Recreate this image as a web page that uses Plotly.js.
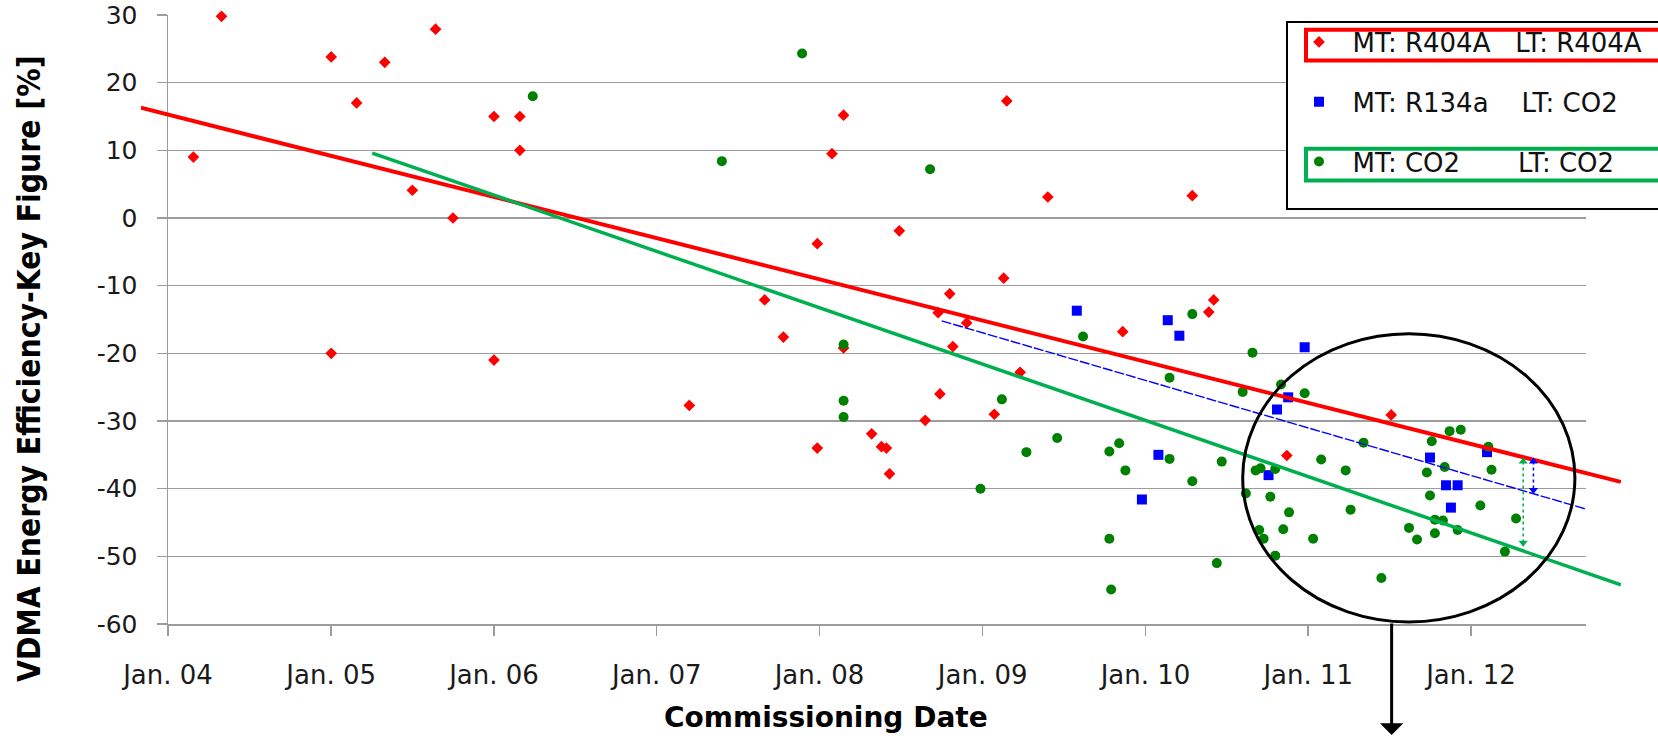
<!DOCTYPE html>
<html>
<head>
<meta charset="utf-8">
<script src="https://cdn.plot.ly/plotly-3.0.1.min.js"></script>
<style>
html,body{margin:0;padding:0;background:#ffffff;}
#chart{width:1658px;height:736px;}
</style>
</head>
<body>
<div id="chart"></div>
<script>
// ---------------- DATA ----------------
const r404aDates = ['2004-02-27','2004-04-30','2005-01-01','2005-02-27','2005-05-01','2005-07-02','2005-08-23','2005-10-01','2006-01-01','2006-02-28','2006-02-28','2005-01-01','2006-01-01','2007-03-15','2007-08-31','2007-10-12','2007-12-27','2007-12-27','2008-01-29','2008-02-24','2008-02-24','2008-04-27','2008-05-19','2008-05-30','2008-06-06','2008-06-28','2008-08-25','2008-09-27','2008-09-23','2008-10-19','2008-10-26','2008-11-26','2009-01-27','2009-02-17','2009-02-24','2009-03-26','2009-05-27','2009-11-11','2010-04-16','2010-06-03','2010-05-23','2010-11-14','2011-07-06'];
const r404aValues = [9.0,29.8,23.8,17.0,23.0,4.1,27.9,0.0,15.0,15.0,10.0,-20.0,-21.0,-27.7,-12.1,-17.6,-34.0,-3.8,9.5,15.2,-19.2,-31.9,-33.8,-34.0,-37.8,-1.9,-29.9,-26.0,-14.0,-11.2,-19.0,-15.5,-29.0,-8.9,17.3,-22.8,3.1,-16.8,3.3,-12.1,-13.9,-35.1,-29.1];

const r134aDates = ['2009-07-31','2010-02-20','2010-03-18','2010-12-24','2010-11-17','2010-10-23','2010-01-30','2009-12-24','2010-10-04','2011-10-01','2012-02-06','2011-11-06','2011-12-02','2011-11-17'];
const r134aValues = [-13.7,-15.1,-17.4,-19.1,-26.5,-28.3,-35.0,-41.6,-38.0,-35.4,-34.6,-39.5,-39.5,-42.8];

const co2Dates = ['2006-03-29','2007-05-27','2007-11-23','2008-09-05','2008-02-24','2008-02-24','2008-02-24','2009-02-13','2008-12-27','2009-04-09','2009-06-17','2009-08-14','2009-10-12','2009-11-03','2009-11-17','2009-10-12','2009-10-16','2010-02-24','2010-02-24','2010-04-16','2010-04-16','2010-06-21','2010-06-10','2010-08-07','2010-08-29','2010-11-01','2010-12-24','2010-09-05','2010-09-16','2010-10-19','2010-08-14','2010-10-08','2010-11-19','2010-11-06','2010-09-13','2010-09-23','2010-10-19','2011-01-12','2011-01-30','2011-03-26','2011-04-06','2011-05-05','2011-06-14','2011-08-15','2011-09-02','2011-09-24','2011-10-01','2011-10-05','2011-10-12','2011-10-12','2011-10-30','2011-11-03','2011-11-14','2011-12-02','2011-12-09','2012-01-22','2012-02-09','2012-02-16','2012-03-17','2012-04-11'];
const co2Values = [18.0,8.4,24.3,7.2,-18.7,-27.0,-29.4,-26.8,-40.0,-34.6,-32.5,-17.5,-34.5,-33.3,-37.3,-47.4,-54.9,-23.6,-35.6,-14.2,-38.9,-36.0,-51.0,-25.7,-19.9,-24.6,-25.9,-37.3,-37.0,-37.1,-40.7,-41.2,-43.5,-46.0,-46.1,-47.4,-49.9,-47.4,-35.7,-37.3,-43.1,-33.2,-53.2,-45.8,-47.5,-37.6,-41.0,-33.0,-44.6,-46.6,-44.7,-36.8,-31.5,-46.1,-31.3,-42.5,-33.8,-37.2,-49.3,-44.4];

// trend lines (end points)
const trendR404aDates = ['2003-11-01','2012-12-02'];
const trendR404aValues = [16.3,-39.0];
const trendR134aDates = ['2008-10-01','2012-09-14'];
const trendR134aValues = [-15.2,-43.0];
const trendCO2Dates = ['2005-04-03','2012-12-02'];
const trendCO2Values = [9.6,-54.2];

// difference arrows
const gapCO2Dates = ['2012-04-27','2012-04-27'];
const gapCO2Values = [-36.0,-48.0];
const gapR134aDates = ['2012-05-20','2012-05-20'];
const gapR134aValues = [-36.0,-40.2];

// highlighted region (circle) and arrow
const circleDates = ['2010-08-07','2012-08-21'];
const circleValues = [-59.7,-17.1];
const arrowDate = '2011-07-07';

// axis ticks
const xTickDates = ['2004-01-01','2005-01-01','2006-01-01','2007-01-01','2008-01-01','2009-01-01','2010-01-01','2011-01-01','2012-01-01'];
const xTickLabels = ['Jan. 04','Jan. 05','Jan. 06','Jan. 07','Jan. 08','Jan. 09','Jan. 10','Jan. 11','Jan. 12'];
const yTickValues = [-60,-50,-40,-30,-20,-10,0,10,20,30];
const yTickLabels = ['-60','-50','-40','-30','-20','-10','0','10','20','30'];
const yRange = [-60,30];

const seriesNames = [
  '\u00a0\u2009MT: R404A\u00a0\u00a0\u00a0LT: R404A',
  '\u00a0\u2009MT: R134a\u00a0\u00a0\u00a0\u00a0LT: CO2',
  '\u00a0\u2009MT: CO2\u00a0\u00a0\u00a0\u00a0\u00a0\u00a0\u00a0LT: CO2'
];
const xTitle = 'Commissioning Date';
const yTitle = 'VDMA Energy Efficiency-Key Figure [%]';

// ---------------- GEOMETRY ----------------
const W = 1658, H = 736;
const plotL = 168, plotR = 1586, plotT = 15, plotB = 624;
const extL = 141, extR = 1621;
const pw = extR - extL, ph = plotB - plotT;
const px2x = p => (p - extL) / pw;
const px2y = p => (plotB - p) / ph;

const t2004 = Date.UTC(2004,0,1), t2012 = Date.UTC(2012,0,1);
const msPerPx = (t2012 - t2004) / (1471 - plotL);
const iso = ms => new Date(ms).toISOString().slice(0,19).replace('T',' ');
const xStart = t2004, xEnd = t2004 + (plotR - plotL) * msPerPx;
const x2Start = xStart - (plotL - extL) * msPerPx;
const x2End = xEnd + (extR - plotR) * msPerPx;

const RED = '#ff0000', BLUE = '#0000ff', DKGREEN = '#008000', LGREEN = '#00b050';
const GRID = '#9c9c9c';
const FONT = 'DejaVu Sans, Verdana, sans-serif';

const traces = [
  {type:'scatter', mode:'markers', x:r404aDates, y:r404aValues, name:seriesNames[0], legendgroup:'a',
   marker:{symbol:'diamond', size:9, color:RED}, cliponaxis:false, xaxis:'x', yaxis:'y'},
  {type:'scatter', mode:'markers', x:r134aDates, y:r134aValues, name:seriesNames[1], legendgroup:'b',
   marker:{symbol:'square', size:10, color:BLUE}, cliponaxis:false, xaxis:'x', yaxis:'y'},
  {type:'scatter', mode:'markers', x:co2Dates, y:co2Values, name:seriesNames[2], legendgroup:'c',
   marker:{symbol:'circle', size:10, color:DKGREEN}, cliponaxis:false, xaxis:'x', yaxis:'y'},
  {type:'scatter', mode:'lines', x:trendR404aDates, y:trendR404aValues, showlegend:false,
   line:{color:RED, width:4}, xaxis:'x2', yaxis:'y2', hoverinfo:'skip'},
  {type:'scatter', mode:'lines', x:trendCO2Dates, y:trendCO2Values, showlegend:false,
   line:{color:LGREEN, width:3.5}, xaxis:'x2', yaxis:'y2', hoverinfo:'skip'},
  {type:'scatter', mode:'lines', x:trendR134aDates, y:trendR134aValues, showlegend:false,
   line:{color:BLUE, width:1.4, dash:'10px,2px'}, xaxis:'x2', yaxis:'y2', hoverinfo:'skip'},
  {type:'scatter', mode:'lines+markers', x:gapCO2Dates, y:gapCO2Values, showlegend:false,
   line:{color:LGREEN, width:1.5, dash:'dot'}, marker:{symbol:['triangle-up','triangle-down'], size:8, color:LGREEN},
   xaxis:'x2', yaxis:'y2', hoverinfo:'skip'},
  {type:'scatter', mode:'lines+markers', x:gapR134aDates, y:gapR134aValues, showlegend:false,
   line:{color:BLUE, width:1.5, dash:'dot'}, marker:{symbol:['triangle-up','triangle-down'], size:8, color:BLUE},
   xaxis:'x2', yaxis:'y2', hoverinfo:'skip'}
];

const layout = {
  width: W, height: H,
  margin: {l: extL, r: W - extR, t: plotT, b: H - plotB, autoexpand: false},
  paper_bgcolor: '#ffffff',
  plot_bgcolor: 'rgba(0,0,0,0)',
  showlegend: true,
  font: {family: FONT, color: '#1a1a1a'},
  xaxis: {
    type: 'date', domain: [px2x(plotL), px2x(plotR)], range: [iso(xStart), iso(xEnd)],
    anchor: 'y', tickmode: 'array', tickvals: xTickDates, ticktext: xTickLabels,
    showgrid: false, zeroline: false, showline: true, linecolor: GRID, linewidth: 1.5,
    ticks: 'outside', ticklen: 10, tickwidth: 1.5, tickcolor: GRID,
    tickfont: {family: FONT, size: 26, color: '#1a1a1a'}, ticklabelstandoff: 17
  },
  yaxis: {
    domain: [0,1], range: yRange, anchor: 'x', tickmode: 'array', tickvals: yTickValues, ticktext: yTickLabels,
    showgrid: true, gridcolor: GRID, gridwidth: 1.5, zeroline: false,
    showline: true, linecolor: GRID, linewidth: 1.5,
    ticks: 'outside', ticklen: 10, tickwidth: 1.5, tickcolor: GRID,
    tickfont: {family: FONT, size: 25, color: '#1a1a1a'}, ticklabelstandoff: 14
  },
  xaxis2: {type: 'date', domain: [0,1], range: [iso(x2Start), iso(x2End)], anchor: 'y2', visible: false, showgrid: false},
  yaxis2: {domain: [0,1], range: yRange, anchor: 'x2', visible: false, showgrid: false},
  legend: {
    x: px2x(1299), xanchor: 'left', y: px2y(18.5), yanchor: 'top',
    bgcolor: 'rgba(0,0,0,0)', borderwidth: 0,
    font: {family: FONT, size: 26, color: '#111111'},
    traceorder: 'grouped', tracegroupgap: 23
  },
  shapes: [
    {type: 'circle', xref: 'x', yref: 'y', x0: circleDates[0], x1: circleDates[1], y0: circleValues[0], y1: circleValues[1],
     line: {color: '#000000', width: 3}},
    {type: 'rect', xref: 'paper', yref: 'paper', x0: px2x(1287), x1: px2x(1700), y0: px2y(209), y1: px2y(22),
     fillcolor: '#ffffff', line: {color: '#000000', width: 2}},
    {type: 'rect', xref: 'paper', yref: 'paper', x0: px2x(1306), x1: px2x(1720), y0: px2y(60.5), y1: px2y(29.7),
     line: {color: RED, width: 4}},
    {type: 'rect', xref: 'paper', yref: 'paper', x0: px2x(1306), x1: px2x(1720), y0: px2y(180.5), y1: px2y(148.7),
     line: {color: LGREEN, width: 4}}
  ],
  annotations: [
    {text: '', xref: 'x', yref: 'paper', x: arrowDate, y: px2y(741), ax: 0, ay: -(741 - 622),
     showarrow: true, arrowhead: 1, arrowsize: 1.3, arrowwidth: 3, arrowcolor: '#000000'},
    {text: xTitle, xref: 'paper', yref: 'paper', x: px2x(826), y: px2y(717), xanchor: 'center', yanchor: 'middle',
     showarrow: false, font: {family: 'DejaVu Sans, sans-serif', size: 28, color: '#000000', weight: 'bold'}},
    {text: yTitle, xref: 'paper', yref: 'paper', x: px2x(29), y: px2y(369), xanchor: 'center', yanchor: 'middle',
     textangle: -90, showarrow: false,
     font: {family: 'Liberation Sans Narrow, DejaVu Sans Condensed, sans-serif', size: 31.5, color: '#000000', weight: 'bold'}}
  ]
};

Plotly.newPlot('chart', traces, layout, {displayModeBar: false, staticPlot: true});
</script>
</body>
</html>
